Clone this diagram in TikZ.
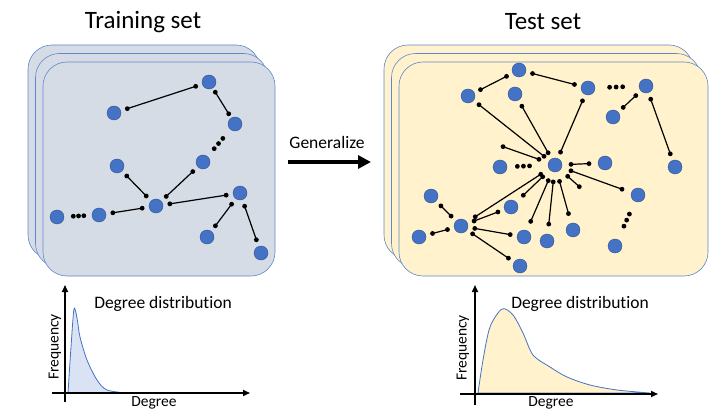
\documentclass[tikz,border=0pt]{standalone}
\usepackage{fontspec}
\setmainfont[Ligatures=NoCommon]{Carlito}
\usetikzlibrary{arrows.meta,calc}
\definecolor{albastru}{HTML}{4472C4}
\definecolor{albastrudes}{HTML}{2F528F}
\definecolor{gri}{HTML}{D6DCE5}
\definecolor{crem}{HTML}{FFF2CC}
\definecolor{bleu}{HTML}{DAE3F3}
\tikzset{
  nod/.style      = {circle, fill=albastru, draw=albastrudes, line width=0.4pt,
                     minimum size=14pt, inner sep=0pt},
  punct/.style    = {circle, fill=black, minimum size=4.8pt, inner sep=0pt},
  muchie/.style   = {line width=1.2pt,
                     to path={($(\tikztostart)!#1!(\tikztotarget)$) node[punct] {}
                              -- ($(\tikztotarget)!#1!(\tikztostart)$) node[punct] {}}},
  muchie/.default = 14pt,
  strat/.style    = {draw=albastru!85, line width=0.6pt, rounded corners=24pt},
  titlu/.style    = {font=\fontsize{25}{29}\selectfont, inner sep=0pt},
  eticheta/.style = {font=\fontsize{17.5}{20}\selectfont, inner sep=0pt},
  axeticheta/.style = {font=\fontsize{15.5}{18}\selectfont, inner sep=0pt},
  axa/.style      = {-{Triangle[length=7pt,width=6pt]}, line width=1.6pt},
  curba/.style    = {draw=albastru, line width=0.8pt},
  sageata/.style  = {-{Triangle[length=13pt,width=13pt]}, line width=3.2pt}
}

\begin{document}
\begin{tikzpicture}[x=1pt, y=-1pt]
    \useasboundingbox (0,0) rectangle (720,414);

    % cele doua stive de grafuri
    \foreach \i in {2,1,0}
        \draw[strat, fill=gri, shift={(-7.5*\i,-8.5*\i)}] (43,62) rectangle (275,276);
    \foreach \i in {2,1,0}
        \draw[strat, fill=crem, shift={(-7.5*\i,-8.5*\i)}] (399,62) rectangle (708,276);

    \node[titlu] (titluantr) at (143,22) {Training set};
    \node[titlu] (titlutest) at (543,22) {Test set};

    % graful de antrenare
    \node[nod] (a1) at (209,82) {};
    \node[nod] (a2) at (114,113) {};
    \node[nod] (a3) at (235,124) {};
    \node[nod] (a4) at (203,162) {};
    \node[nod] (a5) at (117,166) {};
    \node[nod] (a6) at (156,206) {};
    \node[nod] (a7) at (240,193) {};
    \node[nod] (a8) at (99,215) {};
    \node[nod] (a9) at (57,217) {};
    \node[nod] (a10) at (207,237) {};
    \node[nod] (a11) at (261,253) {};

    \draw[muchie] (a2) to (a1);
    \draw[muchie=12pt] (a1) to (a3);
    \draw[muchie] (a4) to (a6);
    \draw[muchie] (a5) to (a6);
    \draw[muchie] (a8) to (a6);
    \draw[muchie] (a6) to (a7);
    \draw[muchie] (a7) to (a10);
    \draw[muchie] (a7) to (a11);
    \foreach \p in {.33,.52,.71} {
        \path (a3) -- (a4) node[punct, pos=\p] {};
        \path (a9) -- (a8) node[punct, pos=\p] {};
    }

    % graful de test
    \node[nod] (t1) at (519,70) {};
    \node[nod] (t2) at (468,96) {};
    \node[nod] (t3) at (515,94) {};
    \node[nod] (t4) at (588,88) {};
    \node[nod] (t5) at (646,86) {};
    \node[nod] (t6) at (613,117) {};
    \node[nod] (t7) at (500,167) {};
    \node[nod] (t8) at (555,165) {};
    \node[nod] (t9) at (605,163) {};
    \node[nod] (t10) at (675,167) {};
    \node[nod] (t11) at (431,196) {};
    \node[nod] (t12) at (511,207) {};
    \node[nod] (t13) at (461,226) {};
    \node[nod] (t14) at (419,237) {};
    \node[nod] (t15) at (524,237) {};
    \node[nod] (t16) at (547,241) {};
    \node[nod] (t17) at (573,230) {};
    \node[nod] (t18) at (638,195) {};
    \node[nod] (t19) at (615,246) {};
    \node[nod] (t20) at (520,266) {};
    \coordinate (liber1) at (487,141);
    \coordinate (liber2) at (592,198);

    \draw[muchie] (t1) to (t4);
    \draw[muchie] (t2) to (t1);
    \draw[muchie] (t2) to (t8);
    \draw[muchie] (t3) to (t8);
    \draw[muchie] (t4) to (t8);
    \draw[muchie] (t5) to (t6);
    \draw[muchie] (t5) to (t10);
    \draw[muchie=17pt] (t8) to (liber1);
    \draw[muchie=17pt] (t8) to (liber2);
    \draw[muchie=16pt] (t8) to (t9);
    \draw[muchie=17pt] (t8) to (t18);
    \draw[muchie=17pt] (t8) to (t13);
    \draw[muchie=17pt] (t8) to (t12);
    \draw[muchie=17pt] (t8) to (t15);
    \draw[muchie=17pt] (t8) to (t16);
    \draw[muchie=17pt] (t8) to (t17);
    \draw[muchie] (t13) to (t12);
    \draw[muchie] (t11) to (t13);
    \draw[muchie] (t14) to (t13);
    \draw[muchie] (t13) to (t15);
    \draw[muchie] (t13) to (t20);
    \foreach \p in {.33,.48,.63}
        \path (t4) -- (t5) node[punct, pos=\p] {};
    \foreach \p in {.25,.40,.55}
        \path (t7) -- (t8) node[punct, pos=\p] {};
    \foreach \p in {.33,.49,.65}
        \path (t18) -- (t19) node[punct, pos=\p] {};

    % sageata dintre stive
    \node[eticheta] (generalizare) at (327,142) {Generalize};
    \coordinate (gstart) at (288,162);
    \coordinate (gstop) at (371,162);
    \draw[sageata] (gstart) -- (gstop);

    % distributia gradelor, stanga
    \filldraw[curba, fill=bleu] plot[smooth] coordinates {(68,393) (71,347) (74,309)
        (77,318) (80,337) (87,360) (97,380) (107,390) (127,393)} -- cycle;
    \draw[axa] (65,402) -- (65,285);
    \draw[axa] (52,393) -- (250,393);
    \node[eticheta] (distst) at (163,304) {Degree distribution};
    \node[axeticheta, rotate=90] (frecst) at (55,347) {Frequency};
    \node[axeticheta] (gradst) at (154,403) {Degree};

    % distributia gradelor, dreapta
    \filldraw[curba, fill=crem] plot[smooth] coordinates {(478,393) (483,360) (490,327)
        (502,309) (513,315) (523,333) (533,355) (550,367) (567,377) (590,385)
        (617,390) (650,393)} -- cycle;
    \draw[axa] (475,405) -- (475,285);
    \draw[axa] (460,394) -- (658,394);
    \node[eticheta] (distdr) at (580,304) {Degree distribution};
    \node[axeticheta, rotate=90] (frecdr) at (463,348) {Frequency};
    \node[axeticheta] (graddr) at (551,403) {Degree};
\end{tikzpicture}
\end{document}
